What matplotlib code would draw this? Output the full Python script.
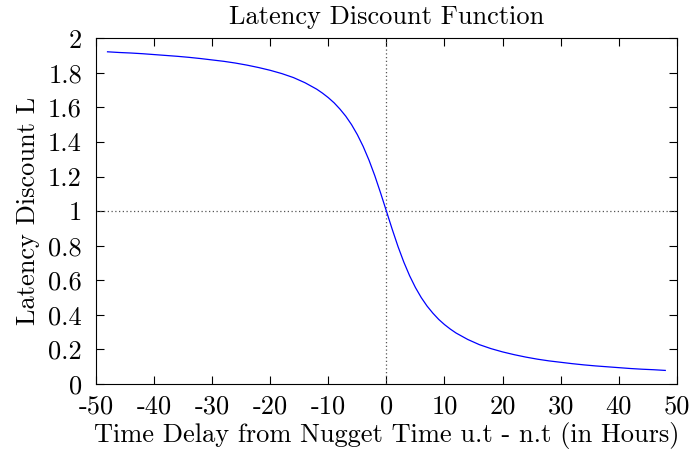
import matplotlib
matplotlib.use("Agg")
import matplotlib.pyplot as plt

plt.rcParams['font.family'] = ['cmr10', 'DejaVu Serif']
plt.rcParams['axes.unicode_minus'] = False
plt.rcParams['mathtext.fontset'] = 'cm'

# delay in hours and discount value
delay_pos = [0, 1, 2, 3, 4, 5, 6, 7, 8, 9, 10, 11, 12, 14, 16, 18, 20, 22, 24,
             26, 28, 30, 32, 34, 36, 38, 40, 42, 44, 46, 48]
disc_pos = [1.000, 0.895, 0.795, 0.705, 0.626, 0.558, 0.500, 0.451, 0.410, 0.374,
            0.344, 0.318, 0.295, 0.258, 0.228, 0.205, 0.186, 0.170, 0.156,
            0.144, 0.134, 0.126, 0.118, 0.111, 0.105, 0.100, 0.095, 0.090,
            0.086, 0.083, 0.079]
delay_neg = [-48, -46, -44, -42, -40, -38, -36, -34, -32, -30, -28, -26, -24, -22,
             -20, -18, -16, -14, -12, -11, -10, -9, -8, -7, -6, -5, -4, -3, -2, -1]
disc_neg = [1.921, 1.917, 1.914, 1.910, 1.905, 1.900, 1.895, 1.889, 1.882, 1.874,
            1.866, 1.856, 1.844, 1.830, 1.814, 1.795, 1.772, 1.742, 1.705, 1.682,
            1.656, 1.626, 1.590, 1.549, 1.500, 1.442, 1.374, 1.295, 1.205, 1.105]

delay = delay_neg + delay_pos
discount = disc_neg + disc_pos

xticks = [-50, -40, -30, -20, -10, 0, 10, 20, 30, 40, 50]
yticks = [0, 0.2, 0.4, 0.6, 0.8, 1, 1.2, 1.4, 1.6, 1.8, 2]
ytick_labels = ['0', '0.2', '0.4', '0.6', '0.8', '1', '1.2', '1.4', '1.6', '1.8', '2']

fig = plt.figure(figsize=(6.9, 4.54), dpi=100)
ax = fig.add_axes([0.139, 0.154, 0.842, 0.762])

ax.axhline(1, color='#555555', linestyle=(0, (1, 2)), linewidth=0.9)
ax.axvline(0, color='#555555', linestyle=(0, (1, 2)), linewidth=0.9)
ax.plot(delay, discount, color='blue', linewidth=0.9)

ax.set_xlim(-50, 50)
ax.set_ylim(0, 2)
ax.set_xticks(xticks)
ax.set_yticks(yticks)
ax.set_yticklabels(ytick_labels)
ax.tick_params(direction='in', length=6, width=0.8, top=True, right=True,
               labelsize=19)
ax.tick_params(axis='x', pad=8)
ax.tick_params(axis='y', pad=10)

ax.set_title('Latency Discount Function', fontsize=19, pad=10)
ax.set_xlabel('Time Delay from Nugget Time u.t - n.t (in Hours)', fontsize=19, labelpad=2)
ax.set_ylabel('Latency Discount L', fontsize=19, labelpad=6)

fig.savefig('out.png', dpi=100)
